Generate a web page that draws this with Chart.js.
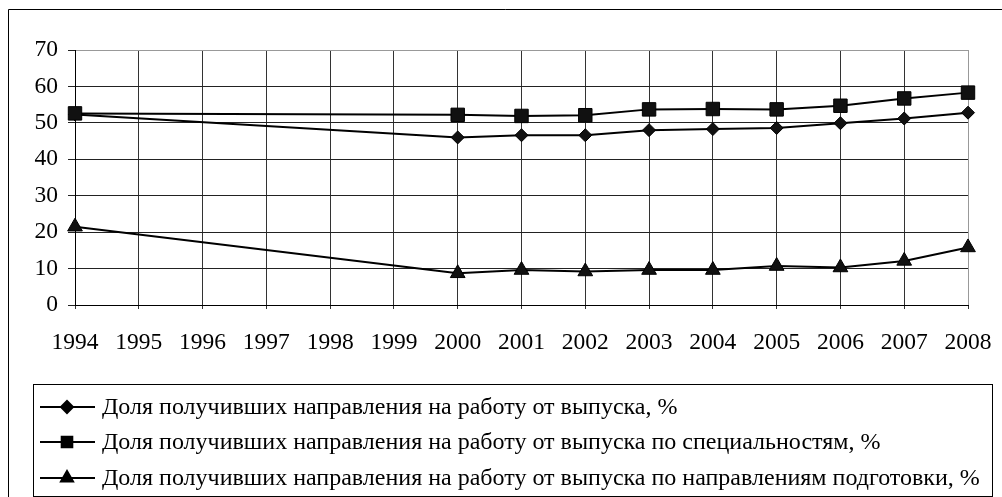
<!DOCTYPE html>
<html>
<head>
<meta charset="utf-8">
<script src="https://cdn.jsdelivr.net/npm/chart.js@4/dist/chart.umd.min.js"></script>
<style>
  html, body { margin: 0; padding: 0; background: #fff; }
</style>
</head>
<body>
<canvas id="myChart" width="1002" height="497"></canvas>
<script>
const years = ['1994', '1995', '1996', '1997', '1998', '1999', '2000', '2001', '2002', '2003', '2004', '2005', '2006', '2007', '2008'];

// доля от выпуска (ромб)
const shareTotal = [52.3, null, null, null, null, null, 46.0, 46.6, 46.6, 48.0, 48.3, 48.6, 49.9, 51.2, 52.8];
// по специальностям (квадрат)
const shareSpec = [52.6, null, null, null, null, null, 52.2, 51.9, 52.1, 53.7, 53.8, 53.7, 54.7, 56.7, 58.3];
// по направлениям подготовки (треугольник)
const shareDir = [21.5, null, null, null, null, null, 8.7, 9.6, 9.2, 9.6, 9.6, 10.7, 10.3, 12.1, 15.8];

const seriesNames = [
  'Доля получивших направления на работу от выпуска, %',
  'Доля получивших направления на работу от выпуска по специальностям, %',
  'Доля получивших направления на работу от выпуска по направлениям подготовки, %'
];

const yMin = 0, yMax = 70, yStep = 10;

Chart.defaults.font.family = '"Liberation Serif", "Times New Roman", serif';
Chart.defaults.color = '#000';

const mkSet = (label, values, style, radius, order) => ({
  label: label,
  data: values,
  order: order,
  spanGaps: true,
  borderColor: '#000',
  borderWidth: 2,
  backgroundColor: '#000',
  pointStyle: style,
  pointRadius: radius,
  pointHoverRadius: radius,
  pointBackgroundColor: '#111',
  pointBorderColor: '#000',
  pointBorderWidth: 1,
  tension: 0,
  clip: false
});

// рамка вокруг всего рисунка
const framePlugin = {
  id: 'frame',
  beforeDraw(chart) {
    const ctx = chart.ctx;
    ctx.save();
    ctx.fillStyle = '#fff';
    ctx.fillRect(0, 0, chart.width, chart.height);
    ctx.strokeStyle = '#000';
    ctx.lineWidth = 1;
    ctx.beginPath();
    ctx.moveTo(8.5, chart.height);
    ctx.lineTo(8.5, 9.5);
    ctx.lineTo(chart.width, 9.5);
    ctx.stroke();
    ctx.restore();
  }
};

// легенда в рамке, по одному ряду на серию
const boxLegend = {
  id: 'boxLegend',
  afterDraw(chart) {
    const ctx = chart.ctx;
    const box = { left: 33.5, top: 384.5, right: 992.5, bottom: 496.5 };
    ctx.save();
    ctx.strokeStyle = '#000';
    ctx.lineWidth = 1;
    ctx.strokeRect(box.left, box.top, box.right - box.left, box.bottom - box.top);
    const rows = [407, 442, 478];
    const sizes = [6, 7.5, 7];
    chart.data.datasets.forEach((ds, i) => {
      const y = rows[i];
      ctx.strokeStyle = '#000';
      ctx.lineWidth = 2;
      ctx.beginPath();
      ctx.moveTo(40, y);
      ctx.lineTo(95, y);
      ctx.stroke();
      ctx.fillStyle = '#000';
      Chart.helpers.drawPoint(ctx, { pointStyle: ds.pointStyle, radius: sizes[i], borderWidth: 1, rotation: 0 }, 67, y);
      ctx.fill();
      ctx.fillStyle = '#000';
      ctx.font = '24px "Liberation Serif", "Times New Roman", serif';
      ctx.textBaseline = 'middle';
      ctx.textAlign = 'left';
      ctx.fillText(ds.label, 102, y + 1);
    });
    ctx.restore();
  }
};

const config = {
  type: 'line',
  data: {
    labels: years,
    datasets: [
      mkSet(seriesNames[0], shareTotal, 'rectRot', 6.5, 1),
      mkSet(seriesNames[1], shareSpec, 'rect', 9.5, 0),
      mkSet(seriesNames[2], shareDir, 'triangle', 8.5, 2)
    ]
  },
  options: {
    responsive: false,
    animation: false,
    layout: { padding: { left: 0, top: 50, right: 34, bottom: 0 } },
    plugins: {
      legend: { display: false },
      tooltip: { enabled: false }
    },
    scales: {
      x: {
        offset: false,
        afterFit: (s) => { s.height = 192; s.paddingLeft = 0; s.paddingRight = 0; },
        grid: {
          color: (c) => c.index === years.length - 1 ? '#999' : '#333',
          lineWidth: 1,
          tickLength: 4,
          tickColor: '#333'
        },
        border: { color: '#000', width: 1 },
        ticks: {
          padding: 20,
          maxRotation: 0,
          autoSkip: false,
          font: { size: 23.5 },
          color: '#000'
        }
      },
      y: {
        min: yMin,
        max: yMax,
        afterFit: (s) => { s.width = 75; s.paddingTop = 0; s.paddingBottom = 0; },
        grid: {
          color: (c) => c.tick && c.tick.value === yMax ? '#999' : '#222',
          lineWidth: 1,
          tickLength: 7,
          tickColor: '#222'
        },
        border: { color: '#000', width: 1 },
        ticks: {
          stepSize: yStep,
          padding: 10,
          font: { size: 23.5 },
          color: '#000'
        }
      }
    }
  },
  plugins: [framePlugin, boxLegend]
};

const myChart = new Chart(document.getElementById('myChart'), config);
</script>
</body>
</html>
